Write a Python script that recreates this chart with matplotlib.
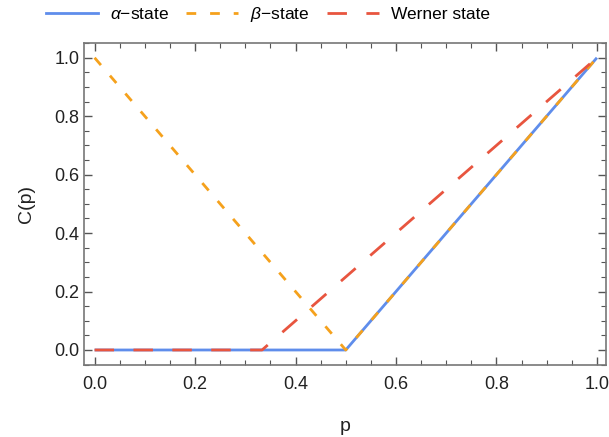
import matplotlib
matplotlib.use("Agg")
import matplotlib.pyplot as plt
from matplotlib.ticker import MultipleLocator
from matplotlib.lines import Line2D

plt.rcParams['font.family'] = ['Liberation Sans', 'DejaVu Sans']
plt.rcParams['mathtext.fontset'] = 'custom'
plt.rcParams['mathtext.it'] = 'Liberation Sans:italic'
plt.rcParams['mathtext.rm'] = 'Liberation Sans'

p_alpha = [0.0, 0.5, 1.0]
c_alpha = [0.0, 0.0, 1.0]
p_beta = [0.0, 0.5, 1.0]
c_beta = [1.0, 0.0, 1.0]
p_werner = [0.0, 1/3, 1.0]
c_werner = [0.0, 0.0, 1.0]
labels = [r'$\alpha$−state', r'$\beta$−state', 'Werner state']

blue = '#5F8DEB'
orange = '#F5A11C'
red = '#E8553F'

fig = plt.figure(figsize=(6.09, 4.37), dpi=100)
ax = fig.add_axes([0.138, 0.165, 0.857, 0.737])

ax.plot(p_alpha, c_alpha, color=blue, lw=2, solid_capstyle='butt')
ax.plot(p_beta, c_beta, color=orange, lw=2, dashes=(3.5, 5))
ax.plot(p_werner, c_werner, color=red, lw=2, dashes=(7, 7))

ax.set_xlim(-0.021, 1.018)
ax.set_ylim(-0.051, 1.051)
ax.xaxis.set_major_locator(MultipleLocator(0.2))
ax.xaxis.set_minor_locator(MultipleLocator(0.05))
ax.yaxis.set_major_locator(MultipleLocator(0.2))
ax.yaxis.set_minor_locator(MultipleLocator(0.05))
ax.tick_params(which='both', direction='in', top=True, right=True, color='#555555',
               labelsize=13, labelcolor='#222222')
ax.tick_params(which='major', length=6, width=1)
ax.tick_params(which='minor', length=3.5, width=0.8)
ax.tick_params(axis='x', pad=8)
for s in ax.spines.values():
    s.set_color('#777777')
    s.set_linewidth(1.2)

ax.set_xlabel('p', fontsize=14, color='#222222', labelpad=18)
ax.set_ylabel('C(p)', fontsize=14, color='#222222', labelpad=14)

handles = [Line2D([], [], color=blue, lw=2),
           Line2D([], [], color=orange, lw=2, dashes=(3.5, 5)),
           Line2D([], [], color=red, lw=2, dashes=(7, 7))]
fig.legend(handles, labels, loc='upper center', bbox_to_anchor=(0.44, 1.025), ncol=3,
           frameon=False, fontsize=12.5, handlelength=3.0, columnspacing=1.0, handletextpad=0.7)

fig.savefig('out.png', dpi=100)
